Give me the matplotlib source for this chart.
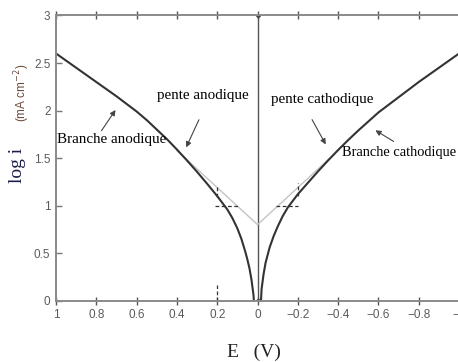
import matplotlib
matplotlib.use("Agg")
import matplotlib.pyplot as plt

# anodic / cathodic branches of log|i| versus overpotential E (V)
E_anod = [1.0, 0.95, 0.9, 0.85, 0.8, 0.75, 0.7, 0.65, 0.6, 0.55, 0.5, 0.45, 0.4, 0.35, 0.3,
          0.25, 0.2, 0.175, 0.15, 0.125, 0.1, 0.08, 0.06, 0.05, 0.04, 0.03, 0.02, 0.01]
logi_anod = [2.60, 2.525, 2.45, 2.375, 2.30, 2.225, 2.15, 2.07, 1.99, 1.90, 1.80, 1.70, 1.59, 1.475, 1.355,
             1.23, 1.10, 1.03, 0.96, 0.87, 0.76, 0.65, 0.51, 0.43, 0.34, 0.22, 0.06, -0.3]

E_cath = [-0.01, -0.02, -0.03, -0.04, -0.05, -0.06, -0.08, -0.1, -0.125, -0.15, -0.175, -0.2, -0.25,
          -0.3, -0.35, -0.4, -0.45, -0.5, -0.55, -0.6, -0.65, -0.7, -0.75, -0.8, -0.85, -0.9, -0.95, -1.0]
logi_cath = [-0.3, 0.12, 0.28, 0.40, 0.48, 0.56, 0.68, 0.78, 0.89, 0.98, 1.05, 1.12, 1.24,
             1.36, 1.475, 1.585, 1.69, 1.79, 1.885, 1.98, 2.06, 2.14, 2.22, 2.30, 2.375, 2.45, 2.525, 2.60]

# Tafel lines meeting at E = 0 (log i0)
tafel_E = [0.4, 0.0, -0.4]
tafel_logi = [1.58, 0.8, 1.58]

x_ticks = [1, 0.8, 0.6, 0.4, 0.2, 0, -0.2, -0.4, -0.6, -0.8, -1]
x_labels = ["1", "0.8", "0.6", "0.4", "0.2", "0", "\u22120.2", "\u22120.4", "\u22120.6", "\u22120.8", "\u22121"]
y_ticks = [0, 0.5, 1, 1.5, 2, 2.5, 3]
y_labels = ["0", "0.5", "1", "1.5", "2", "2.5", "3"]

fig = plt.figure(figsize=(4.58, 3.62), dpi=100)
ax = fig.add_axes([0.1223, 0.1693, 0.880, 0.788])

ax.plot([0, 0], [0, 3], color="#555555", lw=1.0)
ax.plot([0, 0], [0, 3], "o", color="#444444", ms=2.5)
ax.plot(tafel_E, tafel_logi, color="#c4c4c4", lw=1.0)
ax.plot(E_anod, logi_anod, color="#333333", lw=1.5)
ax.plot(E_cath, logi_cath, color="#333333", lw=1.5)

# construction marks for i0 read-off
dash = dict(color="#333333", lw=0.9, ls=(0, (3, 2)))
ax.plot([0.21, 0.09], [1, 1], **dash)
ax.plot([-0.09, -0.2], [1, 1], **dash)
ax.plot([0.2, 0.2], [0, 0.16], **dash)
ax.plot([0.2, 0.2], [1.09, 1.22], **dash)
ax.plot([-0.2, -0.2], [1.1, 1.24], **dash)

ax.set_xlim(1, -1)
ax.set_ylim(0, 3)
ax.set_xticks(x_ticks)
ax.set_xticklabels(x_labels)
ax.set_yticks(y_ticks)
ax.set_yticklabels(y_labels)

for lab in ax.get_xticklabels() + ax.get_yticklabels():
    lab.set_fontfamily("Liberation Sans")
    lab.set_fontsize(8.5)
    lab.set_color("#5a5a5a")

for s in ax.spines.values():
    s.set_color("#8a8a8a")
    s.set_linewidth(1.4)

ax.tick_params(axis="x", direction="inout", length=6, width=1, color="#555555", top=True, pad=3)
ax.tick_params(axis="y", direction="in", length=4, width=1, color="#777777", pad=4)

serif = "Liberation Serif"
ax.text(0.722, 1.70, "Branche anodique", family=serif, fontsize=10.8, ha="center", va="center")
ax.text(0.27, 2.155, "pente anodique", family=serif, fontsize=10.8, ha="center", va="center")
ax.text(-0.32, 2.12, "pente cathodique", family=serif, fontsize=10.8, ha="center", va="center")
ax.text(-0.985, 1.56, "Branche cathodique", family=serif, fontsize=10.4, ha="right", va="center")

arrow = dict(arrowstyle="-|>", color="#444444", lw=0.8, mutation_scale=8)
ax.annotate("", xy=(0.697, 2.03), xytext=(0.782, 1.764), arrowprops=arrow)
ax.annotate("", xy=(0.36, 1.586), xytext=(0.285, 1.93), arrowprops=arrow)
ax.annotate("", xy=(-0.345, 1.618), xytext=(-0.264, 1.93), arrowprops=arrow)
ax.annotate("", xy=(-0.573, 1.807), xytext=(-0.687, 1.66), arrowprops=arrow)

fig.text(17.5 / 458, 1 - 165 / 362, "log i", family=serif, fontsize=14, color="#1c1c48",
         rotation=90, ha="center", va="center")
fig.text(22 / 458, 1 - 93 / 362, "(mA cm$^{-2}$)", family="Liberation Sans", fontsize=8.5,
         color="#6b4a3a", rotation=90, ha="center", va="center")
fig.text(254 / 458, 1 - 352 / 362, "E   (V)", family=serif, fontsize=14, color="#222222",
         ha="center", va="center")

fig.savefig("out.png", dpi=100)
